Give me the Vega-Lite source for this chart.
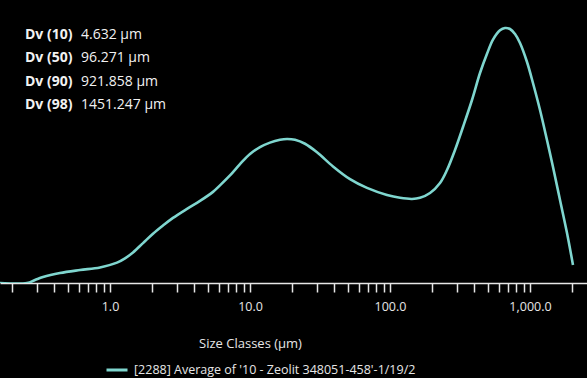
{
  "$schema": "https://vega.github.io/schema/vega-lite/v6.json",
  "width": 587,
  "height": 283,
  "autosize": {"type": "none"},
  "padding": {"left": 0, "top": 0, "right": 0, "bottom": 95},
  "background": "#000000",
  "config": {
    "view": {"stroke": null},
    "font": "Open Sans",
    "text": {"font": "Open Sans"}
  },
  "datasets": {
    "curve": [
      {"size": 0.1637, "vol": 0},
      {"size": 0.2553, "vol": 0},
      {"size": 0.2912, "vol": 0.106},
      {"size": 0.3322, "vol": 0.212},
      {"size": 0.4394, "vol": 0.353},
      {"size": 0.6105, "vol": 0.459},
      {"size": 0.8484, "vol": 0.55},
      {"size": 1.122, "vol": 0.72},
      {"size": 1.28, "vol": 0.87},
      {"size": 1.46, "vol": 1.08},
      {"size": 1.721, "vol": 1.41},
      {"size": 2.028, "vol": 1.74},
      {"size": 2.391, "vol": 2.03},
      {"size": 2.818, "vol": 2.30},
      {"size": 3.548, "vol": 2.62},
      {"size": 4.394, "vol": 2.90},
      {"size": 5.441, "vol": 3.22},
      {"size": 6.105, "vol": 3.45},
      {"size": 7.197, "vol": 3.80},
      {"size": 8.483, "vol": 4.20},
      {"size": 10.0, "vol": 4.56},
      {"size": 11.79, "vol": 4.80},
      {"size": 13.89, "vol": 4.96},
      {"size": 16.38, "vol": 5.06},
      {"size": 18.38, "vol": 5.09},
      {"size": 20.96, "vol": 5.06},
      {"size": 24.71, "vol": 4.92},
      {"size": 30.1, "vol": 4.62},
      {"size": 39.17, "vol": 4.12},
      {"size": 51.81, "vol": 3.67},
      {"size": 68.5, "vol": 3.36},
      {"size": 95.19, "vol": 3.11},
      {"size": 117.9, "vol": 3.01},
      {"size": 143.6, "vol": 2.97},
      {"size": 163.8, "vol": 3.01},
      {"size": 193.1, "vol": 3.18},
      {"size": 227.6, "vol": 3.534},
      {"size": 255.4, "vol": 3.993},
      {"size": 291.3, "vol": 4.7},
      {"size": 332.2, "vol": 5.512},
      {"size": 385.2, "vol": 6.466},
      {"size": 439.4, "vol": 7.42},
      {"size": 493.2, "vol": 8.1},
      {"size": 544.1, "vol": 8.6},
      {"size": 610.5, "vol": 8.93},
      {"size": 662.9, "vol": 9.011},
      {"size": 719.7, "vol": 8.975},
      {"size": 781.5, "vol": 8.799},
      {"size": 848.3, "vol": 8.481},
      {"size": 952.0, "vol": 7.809},
      {"size": 1050, "vol": 7.067},
      {"size": 1179, "vol": 6.113},
      {"size": 1322, "vol": 5.053},
      {"size": 1460, "vol": 4.099},
      {"size": 1638, "vol": 2.933},
      {"size": 1838, "vol": 1.767},
      {"size": 2028, "vol": 0.636}
    ],
    "dv": [
      {"label": "Dv (10)", "value": "4.632 µm"},
      {"label": "Dv (50)", "value": "96.271 µm"},
      {"label": "Dv (90)", "value": "921.858 µm"},
      {"label": "Dv (98)", "value": "1451.247 µm"}
    ]
  },
  "layer": [
    {
      "data": {"name": "curve"},
      "transform": [{"calculate": "\"[2288] Average of '10 - Zeolit   348051-458'-1/19/2\"", "as": "series"}],
      "mark": {"type": "line", "interpolate": "catmull-rom", "strokeWidth": 2.6, "clip": true},
      "encoding": {
        "x": {
          "field": "size",
          "type": "quantitative",
          "scale": {"type": "log", "domain": [0.16378, 2553.6], "nice": false},
          "axis": {
            "title": "Size Classes (µm)",
            "values": [0.2,0.3,0.4,0.5,0.6,0.7,0.8,0.9,1,2,3,4,5,6,7,8,9,10,20,30,40,50,60,70,80,90,100,200,300,400,500,600,700,800,900,1000,2000],
            "labelExpr": "datum.value == 1 ? '1.0' : datum.value == 10 ? '10.0' : datum.value == 100 ? '100.0' : datum.value == 1000 ? '1,000.0' : ''",
            "grid": false,
            "domainColor": "#e6e6e6",
            "domainWidth": 1.5,
            "tickColor": "#e6e6e6",
            "tickWidth": 1.5,
            "tickSize": 9,
            "labelColor": "#e6e6e6",
            "labelFontSize": 12.5,
            "labelFont": "Open Sans",
            "labelPadding": 8,
            "labelFlush": false,
            "titleColor": "#e6e6e6",
            "titleFontSize": 13,
            "titleFont": "Open Sans",
            "titleFontWeight": "normal",
            "titlePadding": 25,
            "titleX": 250
          }
        },
        "y": {
          "field": "vol",
          "type": "quantitative",
          "scale": {"domain": [0, 10], "nice": false},
          "axis": null
        },
        "color": {
          "field": "series",
          "type": "nominal",
          "scale": {"range": ["#7fd6cf"]},
          "legend": {
            "title": null,
            "orient": "none",
            "legendX": 105,
            "legendY": 358,
            "symbolType": "stroke",
            "symbolSize": 441,
            "symbolStrokeWidth": 3,
            "labelColor": "#e6e6e6",
            "labelFontSize": 12.5,
            "labelFont": "Open Sans",
            "labelLimit": 500,
            "labelOffset": 5
          }
        }
      }
    },
    {
      "data": {"name": "dv"},
      "layer": [
        {
          "mark": {"type": "text", "align": "left", "baseline": "middle", "fontWeight": "bold", "fontSize": 14, "color": "#f2f2f2"},
          "encoding": {
            "x": {"datum": 0.247, "type": "quantitative"},
            "y": {"field": "label", "type": "ordinal", "axis": null, "scale": {"range": [35, 105], "padding": 0}},
            "text": {"field": "label"}
          }
        },
        {
          "mark": {"type": "text", "align": "left", "baseline": "middle", "fontSize": 14, "color": "#f2f2f2"},
          "encoding": {
            "x": {"datum": 0.621, "type": "quantitative"},
            "y": {"field": "label", "type": "ordinal", "axis": null, "scale": {"range": [35, 105], "padding": 0}},
            "text": {"field": "value"}
          }
        }
      ]
    }
  ],
  "resolve": {"scale": {"y": "independent"}}
}
